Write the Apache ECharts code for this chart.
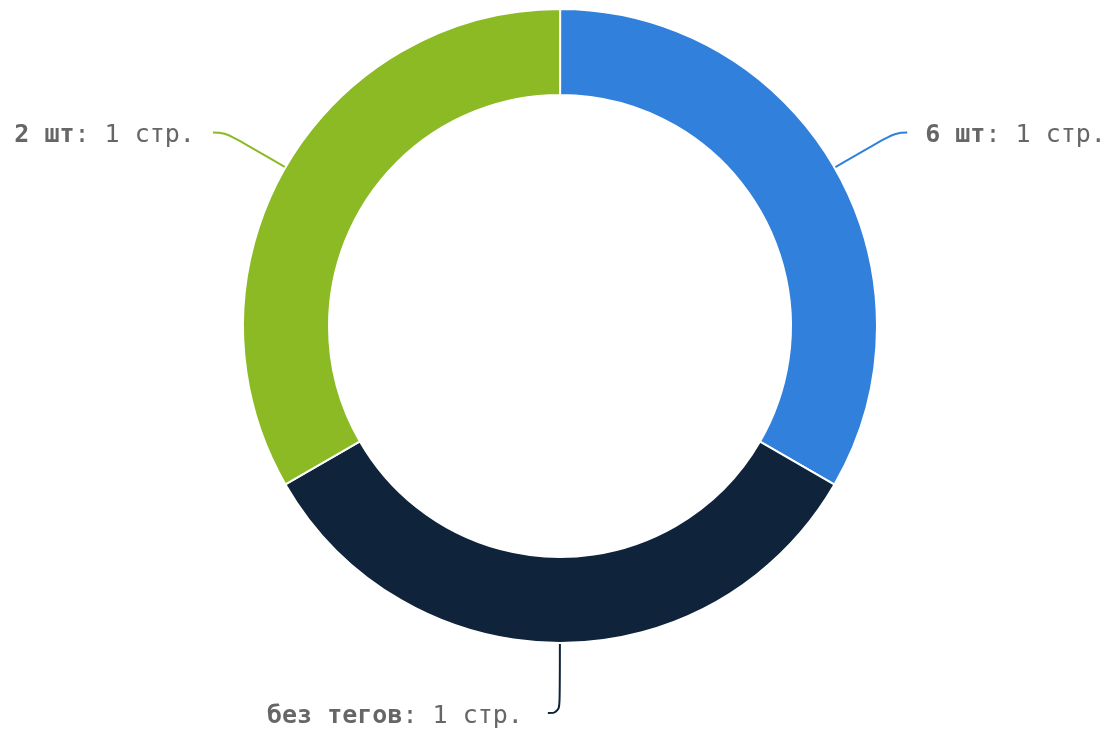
<!DOCTYPE html>
<html><head><meta charset="utf-8">
<script src="https://cdn.jsdelivr.net/npm/echarts@6/dist/echarts.min.js"></script>
<style>html,body{margin:0;padding:0;background:#fff}#c{width:1107px;height:733px}</style>
</head><body><div id="c"></div>
<script>
const categories = ['6 шт', 'без тегов', '2 шт'];
const values = [1, 1, 1];
const unit = 'стр.';
const colors = ['#3080DC', '#0F233A', '#8CBA24'];

const chart = echarts.init(document.getElementById('c'));
chart.setOption({
  animation: false,
  color: colors,
  series: [{
    type: 'pie',
    center: [560, 326],
    radius: [231, 317],
    startAngle: 89.98,
    itemStyle: { borderColor: '#fff', borderWidth: 2 },
    label: {
      show: true,
      overflow: 'none',
      fontFamily: 'DejaVu Sans Mono',
      fontSize: 25,
      color: '#666',
      padding: [6, 0, 0, 0],
      distanceToLabelLine: 18,
      formatter: p => '{b|' + p.name + '}: ' + p.value + ' ' + unit,
      rich: { b: { fontWeight: 'bold', fontFamily: 'DejaVu Sans Mono', fontSize: 25, color: '#666' } }
    },
    labelLine: { show: true, length: 70, length2: 12, smooth: 0.45, lineStyle: { width: 2 } },
    data: categories.map((c, i) => ({
      name: c, value: values[i],
      label: i === 1 ? { distanceToLabelLine: 25 } : undefined
    }))
  }]
});
</script></body></html>
